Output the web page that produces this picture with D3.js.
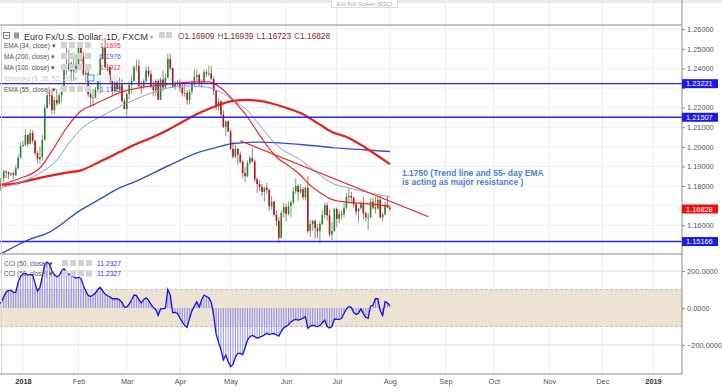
<!DOCTYPE html>
<html>
<head>
<meta charset="utf-8">
<script src="https://cdn.jsdelivr.net/npm/d3@7"></script>
<style>
  body { margin: 0; background: #fff; }
  svg { display: block; font-family: 'Liberation Sans', Arial, sans-serif; }
</style>
</head>
<body>
<div class="chart"></div>
<script>
// EUR/USD daily (FXCM), one bar per weekday starting 18 Dec 2017, last bar 1 Aug 2018
const firstDay = '2017-12-18';
const opens = [
  1.1750, 1.1780, 1.1840, 1.1875, 1.1870, 1.1860, 1.1865, 1.1855, 1.1890, 1.1945,
  1.2005, 1.2010, 1.2060, 1.2015, 1.2070, 1.2030, 1.1968, 1.1937, 1.1947, 1.2035,
  1.2197, 1.2263, 1.2262, 1.2187, 1.2238, 1.2222, 1.2263, 1.2300, 1.2410, 1.2396,
  1.2425, 1.2385, 1.2398, 1.2414, 1.2511, 1.2461, 1.2370, 1.2377, 1.2268, 1.2252,
  1.2252, 1.2292, 1.2355, 1.2450, 1.2506, 1.2406, 1.2406, 1.2340, 1.2284, 1.2328,
  1.2295, 1.2318, 1.2233, 1.2193, 1.2269, 1.2317, 1.2336, 1.2408, 1.2411, 1.2311,
  1.2307, 1.2336, 1.2389, 1.2370, 1.2307, 1.2288, 1.2336, 1.2240, 1.2343, 1.2303,
  1.2353, 1.2448, 1.2401, 1.2306, 1.2324, 1.2320, 1.2302, 1.2272, 1.2275, 1.2239,
  1.2282, 1.2320, 1.2357, 1.2367, 1.2326, 1.2331, 1.2380, 1.2372, 1.2375, 1.2346,
  1.2285, 1.2209, 1.2232, 1.2165, 1.2102, 1.2130, 1.2078, 1.1990, 1.1950, 1.1990,
  1.1960, 1.1923, 1.1866, 1.1850, 1.1917, 1.1943, 1.1925, 1.1835, 1.1810, 1.1796,
  1.1770, 1.1792, 1.1780, 1.1696, 1.1720, 1.1653, 1.1622, 1.1536, 1.1663, 1.1693,
  1.1658, 1.1697, 1.1717, 1.1773, 1.1800, 1.1768, 1.1783, 1.1743, 1.1790, 1.1570,
  1.1606, 1.1623, 1.1584, 1.1570, 1.1607, 1.1653, 1.1702, 1.1650, 1.1553, 1.1570,
  1.1684, 1.1632, 1.1657, 1.1655, 1.1689, 1.1745, 1.1750, 1.1740, 1.1707, 1.1670,
  1.1685, 1.1710, 1.1660, 1.1640, 1.1640, 1.1720, 1.1690, 1.1685, 1.1730, 1.1640,
  1.1655, 1.1705, 1.16909
];
const highs = [
  1.1810, 1.1845, 1.1885, 1.1880, 1.1875, 1.1870, 1.1875, 1.1905, 1.1960, 1.2025,
  1.2030, 1.2090, 1.2065, 1.2090, 1.2085, 1.2035, 1.1980, 1.2000, 1.2060, 1.2215,
  1.2295, 1.2290, 1.2295, 1.2255, 1.2295, 1.2275, 1.2310, 1.2415, 1.2535, 1.2495,
  1.2435, 1.2450, 1.2470, 1.2525, 1.2520, 1.2485, 1.2410, 1.2395, 1.2290, 1.2295,
  1.2305, 1.2375, 1.2470, 1.2510, 1.2555, 1.2425, 1.2410, 1.2360, 1.2350, 1.2335,
  1.2355, 1.2345, 1.2245, 1.2275, 1.2335, 1.2365, 1.2415, 1.2445, 1.2445, 1.2335,
  1.2345, 1.2410, 1.2410, 1.2390, 1.2335, 1.2345, 1.2345, 1.2355, 1.2390, 1.2375,
  1.2475, 1.2475, 1.2405, 1.2335, 1.2340, 1.2345, 1.2320, 1.2320, 1.2290, 1.2295,
  1.2340, 1.2395, 1.2395, 1.2375, 1.2345, 1.2395, 1.2395, 1.2415, 1.2410, 1.2360,
  1.2290, 1.2250, 1.2240, 1.2190, 1.2135, 1.2135, 1.2085, 1.2025, 1.2010, 1.1995,
  1.1975, 1.1935, 1.1895, 1.1930, 1.1955, 1.1995, 1.1935, 1.1845, 1.1830, 1.1810,
  1.1795, 1.1815, 1.1785, 1.1750, 1.1725, 1.1675, 1.1640, 1.1675, 1.1715, 1.1710,
  1.1720, 1.1725, 1.1795, 1.1840, 1.1810, 1.1810, 1.1795, 1.1800, 1.1850, 1.1625,
  1.1625, 1.1630, 1.1605, 1.1620, 1.1675, 1.1715, 1.1715, 1.1680, 1.1615, 1.1690,
  1.1690, 1.1675, 1.1675, 1.1715, 1.1765, 1.1790, 1.1770, 1.1745, 1.1715, 1.1690,
  1.1720, 1.1745, 1.1670, 1.1660, 1.1740, 1.1740, 1.1745, 1.1750, 1.1750, 1.1665,
  1.1720, 1.1745, 1.16939
];
const lows = [
  1.1745, 1.1775, 1.1820, 1.1840, 1.1835, 1.1850, 1.1835, 1.1850, 1.1885, 1.1940,
  1.2000, 1.2005, 1.2000, 1.2010, 1.2020, 1.1955, 1.1915, 1.1915, 1.1930, 1.2030,
  1.2195, 1.2215, 1.2165, 1.2165, 1.2210, 1.2215, 1.2225, 1.2290, 1.2365, 1.2385,
  1.2335, 1.2335, 1.2375, 1.2400, 1.2435, 1.2360, 1.2330, 1.2255, 1.2205, 1.2205,
  1.2245, 1.2275, 1.2270, 1.2445, 1.2400, 1.2385, 1.2325, 1.2260, 1.2275, 1.2280,
  1.2285, 1.2225, 1.2190, 1.2155, 1.2245, 1.2270, 1.2335, 1.2385, 1.2300, 1.2270,
  1.2295, 1.2320, 1.2355, 1.2300, 1.2260, 1.2260, 1.2240, 1.2240, 1.2285, 1.2300,
  1.2350, 1.2390, 1.2300, 1.2290, 1.2310, 1.2280, 1.2255, 1.2255, 1.2215, 1.2215,
  1.2265, 1.2310, 1.2335, 1.2305, 1.2300, 1.2320, 1.2355, 1.2360, 1.2340, 1.2265,
  1.2185, 1.2185, 1.2155, 1.2095, 1.2055, 1.2075, 1.1985, 1.1940, 1.1940, 1.1910,
  1.1915, 1.1840, 1.1820, 1.1845, 1.1905, 1.1920, 1.1820, 1.1765, 1.1775, 1.1750,
  1.1720, 1.1760, 1.1675, 1.1680, 1.1645, 1.1595, 1.1510, 1.1535, 1.1640, 1.1620,
  1.1650, 1.1640, 1.1705, 1.1760, 1.1725, 1.1760, 1.1730, 1.1725, 1.1560, 1.1540,
  1.1570, 1.1530, 1.1535, 1.1508, 1.1600, 1.1635, 1.1625, 1.1540, 1.1525, 1.1565,
  1.1590, 1.1610, 1.1630, 1.1640, 1.1680, 1.1720, 1.1720, 1.1690, 1.1650, 1.1615,
  1.1685, 1.1630, 1.1620, 1.1575, 1.1635, 1.1680, 1.1660, 1.1680, 1.1635, 1.1620,
  1.1650, 1.1685, 1.16723
];
const closes = [
  1.1780, 1.1840, 1.1875, 1.1870, 1.1860, 1.1865, 1.1855, 1.1890, 1.1945, 1.2005,
  1.2010, 1.2060, 1.2015, 1.2070, 1.2030, 1.1968, 1.1937, 1.1947, 1.2035, 1.2197,
  1.2263, 1.2262, 1.2187, 1.2238, 1.2222, 1.2263, 1.2300, 1.2410, 1.2396, 1.2425,
  1.2385, 1.2398, 1.2414, 1.2511, 1.2461, 1.2370, 1.2377, 1.2268, 1.2252, 1.2252,
  1.2292, 1.2355, 1.2450, 1.2506, 1.2406, 1.2406, 1.2340, 1.2284, 1.2328, 1.2295,
  1.2318, 1.2233, 1.2193, 1.2269, 1.2317, 1.2336, 1.2408, 1.2411, 1.2311, 1.2307,
  1.2336, 1.2389, 1.2370, 1.2307, 1.2288, 1.2336, 1.2240, 1.2343, 1.2303, 1.2353,
  1.2448, 1.2401, 1.2306, 1.2324, 1.2320, 1.2302, 1.2272, 1.2275, 1.2239, 1.2282,
  1.2320, 1.2357, 1.2367, 1.2326, 1.2331, 1.2380, 1.2372, 1.2375, 1.2346, 1.2285,
  1.2209, 1.2232, 1.2165, 1.2102, 1.2130, 1.2078, 1.1990, 1.1950, 1.1990, 1.1960,
  1.1923, 1.1866, 1.1850, 1.1917, 1.1943, 1.1925, 1.1835, 1.1810, 1.1796, 1.1770,
  1.1792, 1.1780, 1.1696, 1.1720, 1.1653, 1.1622, 1.1536, 1.1663, 1.1693, 1.1658,
  1.1697, 1.1717, 1.1773, 1.1800, 1.1768, 1.1783, 1.1743, 1.1790, 1.1570, 1.1606,
  1.1623, 1.1584, 1.1570, 1.1607, 1.1653, 1.1702, 1.1650, 1.1553, 1.1570, 1.1684,
  1.1632, 1.1657, 1.1655, 1.1689, 1.1745, 1.1750, 1.1740, 1.1707, 1.1670, 1.1685,
  1.1710, 1.1660, 1.1640, 1.1640, 1.1720, 1.1690, 1.1685, 1.1730, 1.1640, 1.1655,
  1.1705, 1.1690, 1.16828
];

// CCI(50) per bar
const cci = [
    25,   30,   60,   85,   95,   95,   85,   85,  140,  170,
   185,  187,  178,  180,  180,  133,   92,  110,  170,  235,
   248,  235,  200,  180,  169,  175,  200,  212,  196,  182,
   176,  168,  162,  165,  160,  122,   92,   68,   62,   70,
    80,  100,  112,   92,   75,   66,   61,   50,   50,   50,
    44,   30,    5,    5,   22,   43,   70,   68,   45,   28,
    45,   55,   42,   20,    2,   -8,  -40,   -5,   -5,    0,
   100,   70,  -25,  -24,  -30,  -55,  -75,  -95, -105,  -55,
   -15,   10,   34,    5,   45,   70,   62,   55,   30,  -40,
  -140, -185, -225, -280, -255, -290, -317, -305, -265, -245,
  -245, -252, -215, -175, -155, -148, -155, -164, -158, -154,
  -145, -137, -144, -140, -138, -146, -152, -125, -108,  -98,
   -92,  -75,  -66,  -61,  -65,  -62,  -55,  -47, -110,  -98,
   -94,  -97, -102,  -95,  -80,  -66, -100, -108, -100,  -60,
   -62,  -62,  -56,  -30,   -5,    7,    4,  -25,  -35,  -28,
    -5,  -30,  -50,  -56,   10,   15,   50,   50,  -15,  -40,
    34,   28,   11.2327
];

// moving averages
const ema34Dates = ['2017-12-18','2017-12-28','2018-01-10','2018-01-17','2018-01-25','2018-02-02','2018-02-09',
  '2018-02-20','2018-02-27','2018-03-12','2018-03-21','2018-04-02','2018-04-12','2018-04-18','2018-04-25',
  '2018-05-02','2018-05-10','2018-05-17','2018-05-28','2018-06-05','2018-06-11','2018-06-14','2018-06-21',
  '2018-06-28','2018-07-06','2018-07-18','2018-08-01'];
const ema34 = [1.1805, 1.1836, 1.1892, 1.1979, 1.2096, 1.2183, 1.2213,
  1.2254, 1.2280, 1.2305, 1.2315, 1.2326, 1.2331, 1.2331, 1.2300,
  1.2239, 1.2152, 1.2060, 1.1948, 1.1895, 1.1855, 1.1815, 1.1767,
  1.1731, 1.1718, 1.1710, 1.1697];

const ema55Dates = ['2017-12-18','2017-12-28','2018-01-10','2018-01-19','2018-01-26','2018-02-05','2018-02-14',
  '2018-02-23','2018-03-06','2018-03-15','2018-03-26','2018-04-05','2018-04-17','2018-04-23','2018-05-02',
  '2018-05-11','2018-05-17','2018-05-29','2018-06-11','2018-06-20','2018-06-28','2018-07-09','2018-07-20',
  '2018-08-01'];
const ema55 = [1.1790, 1.1815, 1.1866, 1.1933, 1.2019, 1.2101, 1.2152,
  1.2198, 1.2239, 1.2274, 1.2300, 1.2310, 1.2305, 1.2290, 1.2239,
  1.2172, 1.2110, 1.1999, 1.1933, 1.1866, 1.1815, 1.1790, 1.1764,
  1.1745];

const ma100Dates = ['2017-12-18','2017-12-28','2018-01-04','2018-01-16','2018-01-25','2018-02-02','2018-02-14',
  '2018-02-26','2018-03-06','2018-03-15','2018-03-26','2018-04-03','2018-04-12','2018-04-23','2018-05-02',
  '2018-05-10','2018-05-17','2018-05-31','2018-06-11','2018-06-20','2018-06-28','2018-07-09','2018-07-18',
  '2018-08-01'];
const ma100 = [1.1805, 1.1815, 1.1830, 1.1852, 1.1868, 1.1880, 1.1925,
  1.1973, 1.2009, 1.2045, 1.2086, 1.2127, 1.2172, 1.2208, 1.2234,
  1.2239, 1.2234, 1.2203, 1.2172, 1.2121, 1.2076, 1.2045, 1.1994,
  1.1912];

const ma200Dates = ['2017-12-18','2018-01-03','2018-01-16','2018-02-02','2018-02-14','2018-02-26','2018-03-06',
  '2018-03-26','2018-04-12','2018-04-23','2018-05-02','2018-05-17','2018-06-11','2018-06-28','2018-07-18',
  '2018-08-01'];
const ma200 = [1.1448, 1.1524, 1.1565, 1.1678, 1.1734, 1.1790, 1.1820,
  1.1902, 1.1973, 1.1996, 1.2017, 1.2024, 1.2012, 1.1996, 1.1984,
  1.1976];

// drawn trend line and horizontal levels
const trendDates = ['2018-05-07', '2018-08-23'];
const trendValues = [1.2031, 1.1643];
const levels = [1.23221, 1.21507, 1.15166];
const lastPrice = 1.16828;

const priceTicks = [1.16, 1.17, 1.18, 1.19, 1.20, 1.21, 1.22, 1.23, 1.24, 1.25, 1.26];
// ticks whose labels sit under a price tag on the scale
const hiddenTicks = [1.17, 1.23];
const cciTicks = [-200, 0, 200];

const legendRows = [
  {name: 'EMA (34, close)', value: '1.1695', color: '#ff3030'},
  {name: 'MA (200, close)', value: '1.1976', color: '#3a5bc7'},
  {name: 'MA (100, close)', value: '1.1912', color: '#ff3030'},
  {name: 'Ichimoku (9, 26, 52, 26)', value: '', color: '#ccc'},
  {name: 'EMA (55, close)', value: '1.1745', color: '#3a5bc7'}
];

// ----------------------------------------------------------------
const width = 722;
const height = 392;
const axisX = 682;
const pane = {top: 25, bottom: 254};
const lower = {top: 254, bottom: 374};

const fmtDay = d3.timeFormat('%Y-%m-%d');
const parseDay = d3.timeParse('%Y-%m-%d');
const days = d3.timeDay.range(parseDay(firstDay), new Date(2019, 1, 1))
  .filter(d => d.getDay() !== 0 && d.getDay() !== 6);
const dayIndex = new Map(days.map((d, i) => [fmtDay(d), i]));

const bars = closes.map((c, i) => ({i, o: opens[i], h: highs[i], l: lows[i], c}));

// bar index -> pixel (first bar of Jan 2018 and of Jan 2019)
const x = d3.scaleLinear().domain([10, 271]).range([23, 653]);
const y = d3.scaleLinear().domain([1.16, 1.26]).range([225.2, 29.2]);
const yc = d3.scaleLinear().domain([-200, 200]).range([345, 271]);

const monthStarts = d3.timeMonth.range(new Date(2018, 0, 1), new Date(2019, 0, 2));
const monthIdx = monthStarts.map(m => d3.bisectLeft(days, m));

const svg = d3.select('.chart').append('svg')
  .attr('width', width).attr('height', height);

svg.append('rect').attr('width', width).attr('height', 3).attr('fill', '#e9ebef');

const defs = svg.append('defs');
defs.append('clipPath').attr('id', 'clipTop')
  .append('rect').attr('x', 0).attr('y', pane.top).attr('width', axisX).attr('height', pane.bottom - pane.top);
defs.append('clipPath').attr('id', 'clipLow')
  .append('rect').attr('x', 0).attr('y', lower.top).attr('width', axisX).attr('height', lower.bottom - lower.top);

// grid
svg.append('g').selectAll('line').data(monthIdx).enter().append('line')
  .attr('x1', d => x(d)).attr('x2', d => x(d))
  .attr('y1', 3).attr('y2', lower.bottom)
  .attr('stroke', '#ececec');
svg.append('g').selectAll('line').data(priceTicks).enter().append('line')
  .attr('x1', 0).attr('x2', axisX)
  .attr('y1', d => y(d)).attr('y2', d => y(d))
  .attr('stroke', '#f0f0f0');

// lower pane: CCI
const lowPane = svg.append('g').attr('clip-path', 'url(#clipLow)');
lowPane.append('rect')
  .attr('x', 0).attr('width', axisX)
  .attr('y', yc(100)).attr('height', yc(-100) - yc(100))
  .attr('fill', '#ece3d2');
lowPane.selectAll('.grid').data(cciTicks).enter().append('line')
  .attr('x1', 0).attr('x2', axisX)
  .attr('y1', d => yc(d)).attr('y2', d => yc(d))
  .attr('stroke', '#e6e0d6');
lowPane.selectAll('.band').data([100, -100]).enter().append('line')
  .attr('x1', 0).attr('x2', axisX)
  .attr('y1', d => yc(d)).attr('y2', d => yc(d))
  .attr('stroke', '#c4c4c4').attr('stroke-dasharray', '3,2');
lowPane.selectAll('.hist').data(cci).enter().append('line')
  .attr('x1', (d, i) => x(i)).attr('x2', (d, i) => x(i))
  .attr('y1', yc(0)).attr('y2', d => yc(d))
  .attr('stroke', '#5a5aff').attr('stroke-width', 0.9).attr('opacity', 0.7);
lowPane.append('path')
  .datum(cci)
  .attr('fill', 'none').attr('stroke', '#1414e0').attr('stroke-width', 1.3)
  .attr('d', d3.line().x((d, i) => x(i)).y(d => yc(d)));

// upper pane: candles
const upPane = svg.append('g').attr('clip-path', 'url(#clipTop)');
const candles = upPane.selectAll('.candle').data(bars).enter().append('g');
candles.append('line')
  .attr('x1', d => x(d.i)).attr('x2', d => x(d.i))
  .attr('y1', d => y(d.h)).attr('y2', d => y(d.l))
  .attr('stroke', d => d.c >= d.o ? '#5d8a5d' : '#9a5555').attr('stroke-width', 0.8);
candles.append('rect')
  .attr('x', d => x(d.i) - 0.8).attr('width', 1.6)
  .attr('y', d => y(Math.max(d.o, d.c)))
  .attr('height', d => Math.max(0.8, Math.abs(y(d.o) - y(d.c))))
  .attr('fill', d => d.c >= d.o ? '#24872a' : '#b3151b');

// moving averages
const curve = d3.line().curve(d3.curveMonotoneX).x(d => x(d[0])).y(d => y(d[1]));
const series = (dates, vals) => dates.map((d, k) => [dayIndex.get(d), vals[k]]);
const maLines = [
  {pts: series(ma200Dates, ma200), color: '#3452bd', w: 1.4},
  {pts: series(ma100Dates, ma100), color: '#ee1c1c', w: 2.2},
  {pts: series(ema55Dates, ema55), color: '#8a9ddc', w: 1},
  {pts: series(ema34Dates, ema34), color: '#ff1f1f', w: 1.2}
];
upPane.selectAll('.ma').data(maLines).enter().append('path')
  .attr('fill', 'none')
  .attr('stroke', d => d.color).attr('stroke-width', d => d.w)
  .attr('d', d => curve(d.pts));

// levels and trend line
upPane.selectAll('.level').data(levels).enter().append('line')
  .attr('x1', 0).attr('x2', axisX)
  .attr('y1', d => y(d)).attr('y2', d => y(d))
  .attr('stroke', '#2424ff').attr('stroke-width', (d, i) => i === 0 ? 1.1 : 1.5);
upPane.append('line')
  .attr('x1', x(dayIndex.get(trendDates[0]))).attr('y1', y(trendValues[0]))
  .attr('x2', x(dayIndex.get(trendDates[1]))).attr('y2', y(trendValues[1]))
  .attr('stroke', '#ff1a1a').attr('stroke-width', 1.2);

// frame
svg.append('line').attr('x1', 0).attr('x2', axisX).attr('y1', pane.top).attr('y2', pane.top).attr('stroke', '#8a8a8a');
svg.append('line').attr('x1', 0).attr('x2', axisX).attr('y1', lower.top).attr('y2', lower.top).attr('stroke', '#8a8a8a');
svg.append('line').attr('x1', 0).attr('x2', axisX).attr('y1', lower.bottom).attr('y2', lower.bottom).attr('stroke', '#8a8a8a');
svg.append('line').attr('x1', axisX).attr('x2', axisX).attr('y1', 0).attr('y2', lower.bottom).attr('stroke', '#8a8a8a');
svg.append('line').attr('x1', 1.5).attr('x2', 1.5).attr('y1', pane.top).attr('y2', lower.bottom).attr('stroke', '#d4d4d4');

// axes
function styleAxis(g, size) {
  g.select('.domain').remove();
  g.selectAll('.tick line').attr('stroke', '#8a8a8a');
  g.selectAll('.tick text').attr('fill', '#555').attr('font-size', size);
}
svg.append('g')
  .attr('transform', `translate(${axisX},0)`)
  .call(d3.axisRight(y).tickValues(priceTicks).tickSize(3).tickPadding(2)
    .tickFormat(d => hiddenTicks.includes(d) ? '' : d3.format('.5f')(d)))
  .call(g => styleAxis(g, 7.4));
svg.append('g')
  .attr('transform', `translate(${axisX},0)`)
  .call(d3.axisRight(yc).tickValues(cciTicks).tickFormat(d3.format('.4f')).tickSize(3).tickPadding(2))
  .call(g => styleAxis(g, 7.4));
svg.append('g')
  .attr('transform', `translate(0,${lower.bottom})`)
  .call(d3.axisBottom(x).tickValues(monthIdx).tickSize(0).tickPadding(5)
    .tickFormat(i => days[i].getMonth() === 0 ? d3.timeFormat('%Y')(days[i]) : d3.timeFormat('%b')(days[i])))
  .call(g => styleAxis(g, 7.4))
  .call(g => g.selectAll('.tick text')
    .attr('font-weight', i => days[i].getMonth() === 0 ? 'bold' : null)
    .attr('fill', i => days[i].getMonth() === 0 ? '#333' : '#555'));

// price labels on the scale
const tags = levels.map(v => ({v, fill: '#1a1aee'})).concat([{v: lastPrice, fill: '#f01010'}]);
const tag = svg.selectAll('.tag').data(tags).enter().append('g')
  .attr('transform', d => `translate(${axisX},${y(d.v)})`);
tag.append('rect').attr('x', 0).attr('y', -4.5).attr('width', 36).attr('height', 9).attr('fill', d => d.fill);
tag.append('text').attr('x', 4).attr('y', 2.7)
  .attr('fill', '#fff').attr('font-size', 7.4)
  .text(d => d3.format('.5f')(d.v));

// legend
const title = svg.append('g');
title.append('rect').attr('x', 3.5).attr('y', 32.5).attr('width', 6).attr('height', 6)
  .attr('fill', 'none').attr('stroke', '#666').attr('stroke-width', 0.8);
title.append('line').attr('x1', 5).attr('x2', 8.5).attr('y1', 35.5).attr('y2', 35.5).attr('stroke', '#666').attr('stroke-width', 0.8);
title.append('rect').attr('x', 14).attr('y', 32.5).attr('width', 5).attr('height', 6).attr('fill', '#999');
title.append('text').attr('x', 24).attr('y', 39.5)
  .attr('font-size', 9).attr('fill', '#333')
  .text('Euro Fx/U.S. Dollar, 1D, FXCM');
title.append('text').attr('x', 150).attr('y', 39).attr('font-size', 6).attr('fill', '#999').text('▾');
title.selectAll('.ico').data([159, 166]).enter().append('rect')
  .attr('x', d => d).attr('y', 32).attr('width', 6).attr('height', 6).attr('fill', '#d2d2d2');
const ohlc = title.append('text').attr('x', 178).attr('y', 39.3).attr('font-size', 8.3);
[['O', opens], ['H', highs], ['L', lows], ['C', closes]].forEach(([k, arr], n) => {
  ohlc.append('tspan').attr('fill', '#7a5a5a').attr('dx', n ? 3 : 0).text(k);
  ohlc.append('tspan').attr('fill', '#8b1a1a').text(d3.format('.5f')(arr[arr.length - 1]));
});

const rows = svg.selectAll('.leg').data(legendRows).enter().append('g')
  .attr('transform', (d, i) => `translate(4,${47.5 + i * 11})`);
rows.append('text')
  .attr('font-size', 6.5)
  .attr('fill', (d, i) => i === 3 ? '#c8c8c8' : '#555')
  .text(d => d.name + ' ▾');
rows.each(function(d, i) {
  const g = d3.select(this);
  const x0 = i === 3 ? 84 : 57;
  g.selectAll('rect').data([0, 1, 2, 3]).enter().append('rect')
    .attr('x', k => x0 + k * 8).attr('y', -5.5).attr('width', 6).attr('height', 6)
    .attr('fill', k => i === 3 && k === 0 ? '#fff' : (i === 3 ? '#eee' : '#d2d2d2'))
    .attr('stroke', k => i === 3 && k === 0 ? '#29a0e6' : 'none').attr('stroke-width', 1);
});
rows.append('text').attr('x', 96)
  .attr('font-size', 6.8).attr('fill', d => d.color)
  .text(d => d.value);

const cciRows = svg.selectAll('.cleg').data(['CCI (50, close)', 'CCI (50, close)']).enter().append('g')
  .attr('transform', (d, i) => `translate(4,${265.5 + i * 10.5})`);
cciRows.append('text').attr('font-size', 6.5).attr('fill', '#555').text(d => d + ' ▾');
cciRows.selectAll('rect').data([0, 1, 2, 3]).enter().append('rect')
  .attr('x', k => 58 + k * 8).attr('y', -5.5).attr('width', 6).attr('height', 6).attr('fill', '#d2d2d2');
cciRows.append('text').attr('x', 93).attr('font-size', 6.8).attr('fill', '#3333ff')
  .text(d3.format('.4f')(cci[cci.length - 1]));

// annotation
const note = svg.append('text').attr('x', 402).attr('font-size', 8.5).attr('font-weight', 'bold').attr('fill', '#4a7fd8');
note.append('tspan').attr('x', 402).attr('y', 176).text('1.1750 (Trend line and 55- day EMA');
note.append('tspan').attr('x', 402).attr('y', 185).text('is acting as major resistance )');

// full screen hint
svg.append('rect').attr('x', 331.5).attr('y', -0.5).attr('width', 66).attr('height', 8)
  .attr('fill', '#fff').attr('stroke', '#dcdcdc');
svg.append('text').attr('x', 364.5).attr('y', 5.8).attr('text-anchor', 'middle')
  .attr('font-size', 5.6).attr('fill', '#a8a8a8').text('Exit Full Screen (ESC)');
</script>
</body>
</html>
